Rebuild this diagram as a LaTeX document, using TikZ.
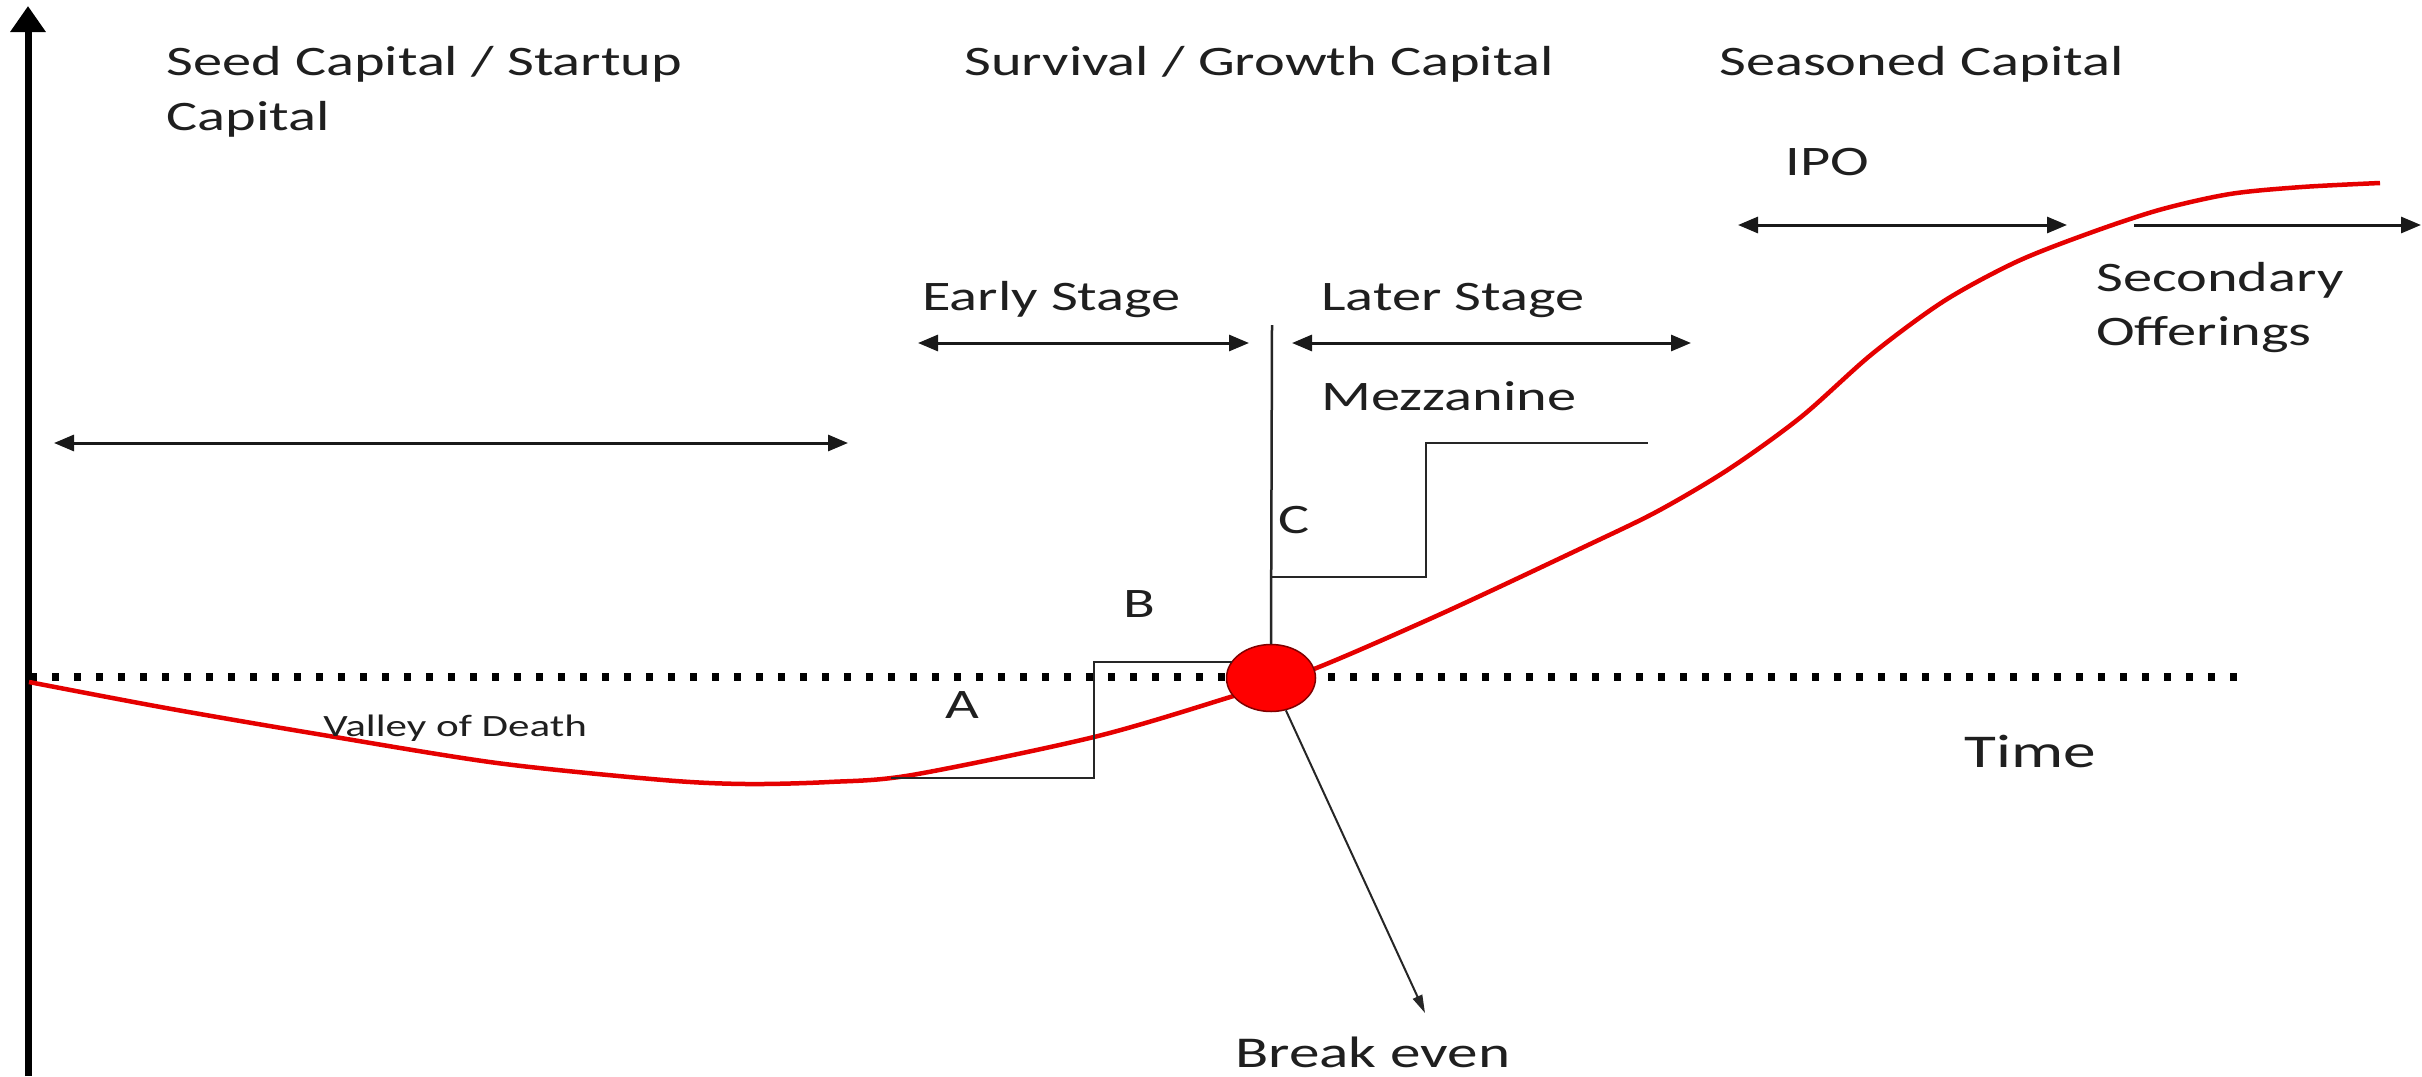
\documentclass[tikz,border=0pt]{standalone}
\usepackage{fontspec}
\setmainfont{Carlito}
\usetikzlibrary{arrows.meta,shapes.geometric}
\tikzset{
  lbl/.style={inner sep=0pt, anchor=base west, xscale=1.39, font=\fontsize{42}{50}\selectfont, text=black!88},
  thinline/.style={line width=2.5pt, black!85},
  dblarrow/.style={line width=3pt, black!90, {Triangle[length=20pt,width=16pt]}-{Triangle[length=20pt,width=16pt]}},
  onearrow/.style={line width=3pt, black!90, -{Triangle[length=20pt,width=16pt]}},
  curve/.style={line width=4.5pt, red!90!black},
  dots/.style={line width=8pt, dash pattern=on 7pt off 15pt, black},
}
\begin{document}
\begin{tikzpicture}[x=1pt,y=-1pt]
\useasboundingbox (0,0) rectangle (2422,1076);
\fill[white] (0,0) rectangle (2422,1076);

% y axis
\coordinate (ybot) at (28,1076);
\coordinate (ytop) at (28,6);
\draw[line width=7pt, -{Triangle[length=26pt,width=34pt]}] (ybot) -- (ytop);

% dotted break-even line
\coordinate (d0) at (30,677);
\coordinate (d1) at (2242,677);
\draw[dots] (d0) -- (d1);

% red curve
\draw[curve] plot[smooth, tension=0.5] coordinates {(29,682) (166,708) (323,735) (497,763) (663,780) (746,784) (829,782) (912,775) (1094,737) (1227,698) (1314,669) (1443,613) (1586,546) (1658,511) (1729,469) (1801,417) (1872,354) (1944,301) (2016,262) (2087,234) (2159,210) (2230,194) (2302,187) (2380,183)};

% break even point
\node[ellipse, minimum width=89pt, minimum height=67pt, inner sep=0pt, fill=red, draw=red!50!black, line width=1.5pt] (be) at (1271,678) {};

% vertical divider
\coordinate (vtop) at (1272,325);
\draw[thinline] (vtop) -- (be.north);

% A step
\coordinate (a0) at (891,778);
\coordinate (a1) at (1094,778);
\coordinate (a2) at (1094,662);
\coordinate (a3) at (1232,662);
\draw[thinline] (a0) -- (a1) -- (a2) -- (a3);

% Mezzanine step
\coordinate (m0) at (1272,577);
\coordinate (m1) at (1426,577);
\coordinate (m2) at (1426,443);
\coordinate (m3) at (1648,443);
\draw[thinline] (m0) -- (m1) -- (m2) -- (m3);

% arrows
\coordinate (s0) at (54,443);   \coordinate (s1) at (848,443);
\coordinate (e0) at (918,343);  \coordinate (e1) at (1249,343);
\coordinate (l0) at (1292,343); \coordinate (l1) at (1691,343);
\coordinate (i0) at (1738,225); \coordinate (i1) at (2067,225);
\coordinate (o0) at (2134,225); \coordinate (o1) at (2421,225);
\draw[dblarrow] (s0) -- (s1);
\draw[dblarrow] (e0) -- (e1);
\draw[dblarrow] (l0) -- (l1);
\draw[dblarrow] (i0) -- (i1);
\draw[onearrow] (o0) -- (o1);

% break even arrow
\coordinate (betip) at (1425,1013);
\draw[line width=2pt, black!85, -{Triangle[length=18pt,width=10pt]}] (be) -- (betip);

% labels
\node[lbl] (seed1) at (166,75) {Seed Capital / Startup};
\node[lbl] (seed2) at (166,130) {Capital};
\node[lbl] (surv) at (964,75) {Survival / Growth Capital};
\node[lbl] (seas) at (1719,75) {Seasoned Capital};
\node[lbl] (ipo) at (1785,175) {IPO};
\node[lbl] (sec1) at (2096,291) {Secondary};
\node[lbl] (sec2) at (2096,345) {Offerings};
\node[lbl] (early) at (922,310) {Early Stage};
\node[lbl] (later) at (1321,310) {Later Stage};
\node[lbl] (mezz) at (1321,410) {Mezzanine};
\node[lbl] (lC) at (1278,533) {C};
\node[lbl] (lB) at (1123,617) {B};
\node[lbl] (lA) at (945,718) {A};
\node[lbl, font=\fontsize{31}{36}\selectfont] (vod) at (323,736) {Valley of Death};
\node[lbl, font=\fontsize{47}{56}\selectfont] (time) at (1964,767) {Time};
\node[lbl, font=\fontsize{44}{52}\selectfont] (bev) at (1235,1067) {Break even};
\end{tikzpicture}
\end{document}
